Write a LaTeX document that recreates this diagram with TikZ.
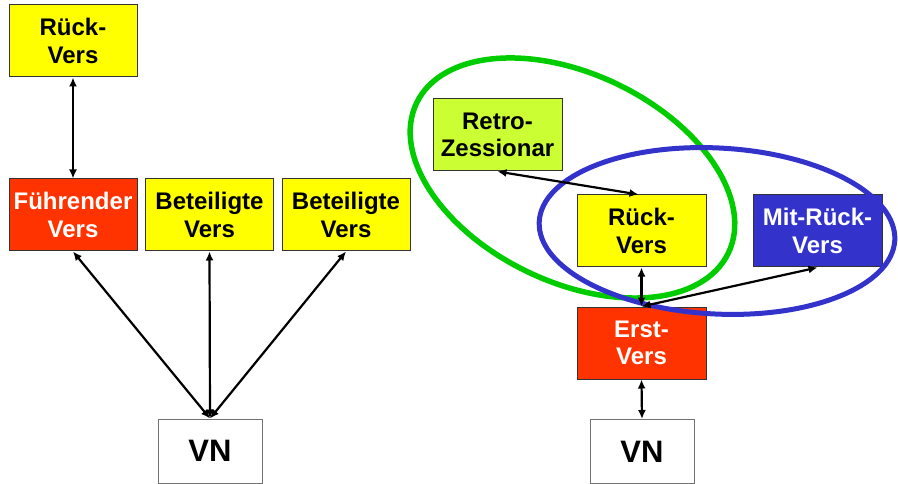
\documentclass[tikz,border=0pt]{standalone}
\usepackage{fontspec}
\setmainfont{Liberation Sans}
\usetikzlibrary{arrows.meta}
\definecolor{cyellow}{HTML}{FFFF00}
\definecolor{cred}{HTML}{FF3300}
\definecolor{clime}{HTML}{CCFF33}
\definecolor{cblue}{HTML}{3333CC}
\definecolor{cgreen}{HTML}{00CC00}
\definecolor{cborder}{HTML}{333333}
\begin{document}
\begin{tikzpicture}[x=1pt,y=-1pt,
  box/.style={draw=cborder, line width=1pt, minimum width=128pt, minimum height=72pt,
    inner sep=0pt, align=center, font=\fontsize{24}{27.6}\selectfont\bfseries},
  vnbox/.style={draw=black!55, line width=1pt, fill=white, minimum width=104pt, minimum height=64pt,
    inner sep=0pt, font=\fontsize{31}{36}\selectfont\bfseries},
  conn/.style={line width=2.2pt, {Latex[length=9pt,width=8pt]}-{Latex[length=9pt,width=8pt]}},
  ring/.style={line width=5.5pt}]
\useasboundingbox (0,0) rectangle (898,484);
% left side
\node[box, fill=cyellow] (rv1) at (73,41) {Rück-\\Vers};
\node[box, fill=cred, text=white] (fv) at (73,215) {Führender\\Vers};
\node[box, fill=cyellow] (bv1) at (209.5,215) {Beteiligte\\Vers};
\node[box, fill=cyellow] (bv2) at (346,215) {Beteiligte\\Vers};
\node[vnbox] (vn1) at (210,451) {VN};
\draw[conn] (rv1.south) -- (fv.north);
\draw[conn] (vn1.north) -- (fv.south);
\draw[conn] (vn1.north) -- (bv1.south);
\draw[conn] (vn1.north) -- (bv2.south);
% right side
\node[box, fill=clime, minimum width=129pt] (retro) at (497.5,135) {Retro-\\Zessionar};
\node[box, fill=cyellow, minimum width=129pt] (rv2) at (641.5,231) {Rück-\\Vers};
\node[box, fill=cblue, text=white, minimum width=129pt] (mit) at (817.5,231) {Mit-Rück-\\Vers};
\node[box, fill=cred, text=white, minimum width=129pt] (erst) at (641.5,343) {Erst-\\Vers};
\node[vnbox] (vn2) at (642,451.5) {VN};
\coordinate (gc) at (572.5,178);
\coordinate (bc) at (717,231);
\draw[ring, draw=cgreen, rotate around={-25.7:(gc)}] (gc) ellipse [x radius=173pt, y radius=104pt];
\draw[ring, draw=cblue, line width=5pt, rotate around={-3:(bc)}] (bc) ellipse [x radius=178pt, y radius=83pt];
\draw[conn] (retro.south) -- ([xshift=-3pt]rv2.north);
\draw[conn] (rv2.south) -- (erst.north);
\draw[conn] (erst.north) -- (mit.south);
\draw[conn] (erst.south) -- (vn2.north);
\end{tikzpicture}
\end{document}
